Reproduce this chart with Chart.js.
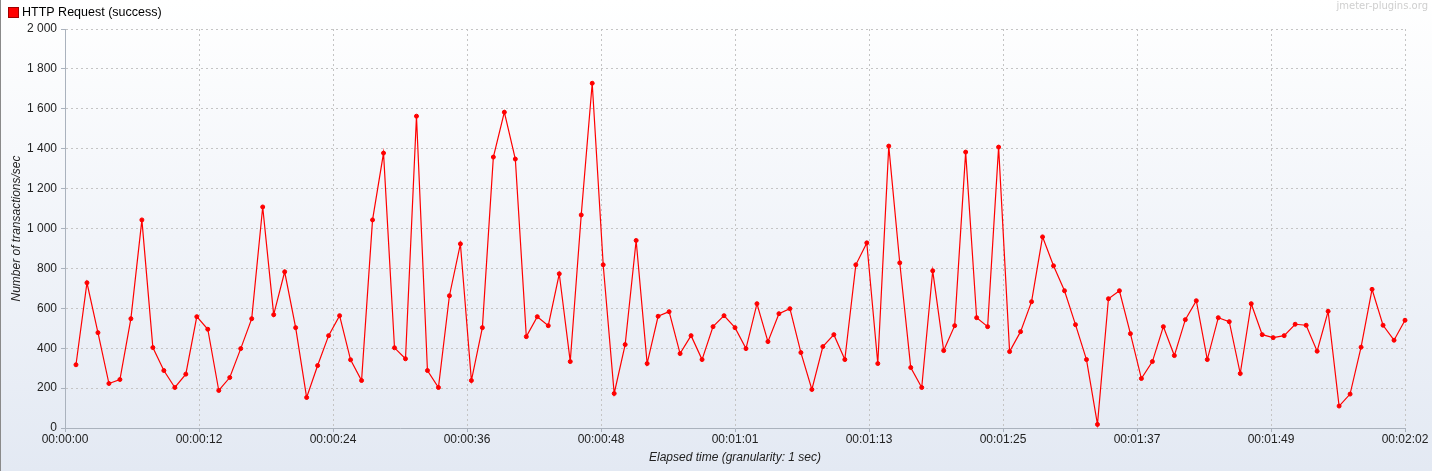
<!DOCTYPE html>
<html>
<head>
<meta charset="utf-8">
<script src="https://cdn.jsdelivr.net/npm/chart.js@4/dist/chart.umd.min.js"></script>
<style>
  html, body { margin: 0; padding: 0; background: #fff; }
  #wrap { width: 1432px; height: 471px; }
</style>
</head>
<body>
<div id="wrap"><canvas id="chart" width="1432" height="471"></canvas></div>
<script>
// series, one value per second (granularity 1 sec)
const seriesName = "HTTP Request (success)";
const transactionsPerSec = [
  317, 728, 478, 223, 243, 548, 1043, 403, 288, 203,
  270, 558, 495, 188, 253, 398, 548, 1108, 568, 783,
  503, 153, 313, 463, 563, 342, 238, 1043, 1378, 402,
  347, 1563, 288, 203, 663, 923, 238, 503, 1358, 1583,
  1348, 458, 558, 513, 773, 333, 1068, 1728, 818, 173,
  418, 940, 323, 560, 583, 373, 463, 343, 508, 563,
  503, 398, 623, 433, 573, 598, 378, 193, 408, 468,
  343, 818, 928, 323, 1413, 828, 303, 203, 788, 388,
  513, 1383, 553, 508, 1408, 383, 483, 633, 958, 813,
  688, 518, 343, 18, 648, 688, 473, 248, 333, 508,
  363, 543, 638, 343, 553, 533, 273, 623, 468, 453,
  463, 520, 515, 385, 585, 110, 170, 405, 695, 515,
  440, 540
];
const xTickValues = [0, 12.2, 24.4, 36.6, 48.8, 61, 73.2, 85.4, 97.6, 109.8, 122];
const xTickLabels = ["00:00:00", "00:00:12", "00:00:24", "00:00:36", "00:00:48", "00:01:01",
                     "00:01:13", "00:01:25", "00:01:37", "00:01:49", "00:02:02"];
const yTickValues = [0, 200, 400, 600, 800, 1000, 1200, 1400, 1600, 1800, 2000];

const points = transactionsPerSec.map((v, i) => ({ x: i + 1, y: v }));

const FONT = "'Liberation Sans', Arial, sans-serif";

// gradient background, legend box and watermark
const decorations = {
  id: "decorations",
  beforeDraw(chart) {
    const ctx = chart.ctx;
    const g = ctx.createLinearGradient(0, 0, 0, chart.height);
    g.addColorStop(0, "#ffffff");
    g.addColorStop(1, "#e3e9f3");
    ctx.save();
    ctx.fillStyle = g;
    ctx.fillRect(0, 0, chart.width, chart.height);
    ctx.fillStyle = "#8a8a8a";
    ctx.fillRect(0, 0, 1, chart.height);
    ctx.restore();
  },
  afterDraw(chart) {
    const ctx = chart.ctx;
    ctx.save();
    ctx.fillStyle = "#ff0000";
    ctx.fillRect(8, 7, 11, 11);
    ctx.strokeStyle = "#a00000";
    ctx.lineWidth = 1;
    ctx.strokeRect(8.5, 7.5, 10, 10);
    ctx.fillStyle = "#000";
    ctx.font = "12.5px " + FONT;
    ctx.textBaseline = "middle";
    ctx.fillText(seriesName, 22, 12.5);
    ctx.fillStyle = "#cfcfcf";
    ctx.font = "10px 'DejaVu Sans', sans-serif";
    ctx.textAlign = "right";
    ctx.textBaseline = "top";
    ctx.fillText("jmeter-plugins.org", 1428, 1);
    ctx.restore();
  }
};

new Chart(document.getElementById("chart"), {
  type: "line",
  data: {
    datasets: [{
      label: seriesName,
      data: points,
      borderColor: "#ff0000",
      backgroundColor: "#ff0000",
      borderWidth: 1.2,
      pointRadius: 2,
      pointBorderWidth: 1,
      pointBackgroundColor: "#ff0000",
      pointBorderColor: "#ff0000",
      tension: 0,
      clip: 6
    }]
  },
  options: {
    responsive: false,
    animation: false,
    devicePixelRatio: 1,
    layout: { padding: { top: 29, right: 27, left: 0, bottom: 0 } },
    plugins: {
      legend: { display: false },
      tooltip: { enabled: false }
    },
    scales: {
      x: {
        type: "linear",
        min: 0,
        max: 122,
        afterBuildTicks: s => { s.ticks = xTickValues.map(v => ({ value: v })); },
        afterFit: s => { s.height = 43; },
        ticks: {
          autoSkip: false,
          maxRotation: 0,
          padding: 0,
          color: "#222",
          font: { family: FONT, size: 12 },
          callback: (v, i) => xTickLabels[i]
        },
        grid: {
          color: "#c4c4c4",
          tickColor: "#aab2bd",
          tickLength: 4,
          tickBorderDash: []
        },
        border: { color: "#aab2bd", width: 1, dash: [2, 3] },
        title: {
          display: true,
          text: "Elapsed time (granularity: 1 sec)",
          color: "#222",
          font: { family: FONT, size: 12, style: "italic" },
          padding: { top: 0, bottom: 6 }
        }
      },
      y: {
        min: 0,
        max: 2000,
        afterBuildTicks: s => { s.ticks = yTickValues.map(v => ({ value: v })); },
        afterFit: s => { s.width = 65; },
        ticks: {
          padding: 4,
          color: "#222",
          font: { family: FONT, size: 12 },
          callback: v => String(v).replace(/\B(?=(\d{3})+(?!\d))/g, " ")
        },
        grid: {
          color: "#c4c4c4",
          tickColor: "#aab2bd",
          tickLength: 4,
          tickBorderDash: []
        },
        border: { color: "#aab2bd", width: 1, dash: [2, 3] },
        title: {
          display: true,
          text: "Number of transactions/sec",
          color: "#222",
          font: { family: FONT, size: 12, style: "italic" },
          padding: { top: 9, bottom: 0 }
        }
      }
    }
  },
  plugins: [decorations]
});
</script>
</body>
</html>
